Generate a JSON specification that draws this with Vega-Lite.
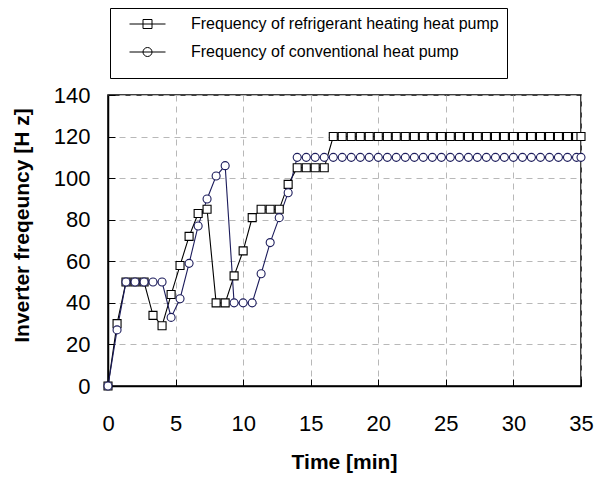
{
  "$schema": "https://vega.github.io/schema/vega-lite/v6.json",
  "width": 473,
  "height": 291,
  "autosize": {"type": "none"},
  "padding": {"left": 108, "top": 95, "right": 21, "bottom": 92},
  "background": "white",
  "config": {
    "view": {"stroke": "black", "strokeWidth": 1.5},
    "font": "Liberation Sans",
    "axis": {
      "labelFont": "Liberation Sans",
      "labelFontSize": 22,
      "labelColor": "black",
      "titleFont": "Liberation Sans",
      "titleFontSize": 21,
      "titleFontWeight": "bold",
      "titleColor": "black",
      "domainColor": "black",
      "domainWidth": 1.5,
      "tickColor": "black",
      "tickSize": -7,
      "gridColor": "#b8b8b8",
      "gridDash": [6, 5],
      "gridWidth": 1
    }
  },
  "data": {
    "values": [
      {"t": 0, "f": 0, "s": "R"},
      {"t": 0.67, "f": 30, "s": "R"},
      {"t": 1.33, "f": 50, "s": "R"},
      {"t": 2.0, "f": 50, "s": "R"},
      {"t": 2.67, "f": 50, "s": "R"},
      {"t": 3.33, "f": 34, "s": "R"},
      {"t": 4.0, "f": 29, "s": "R"},
      {"t": 4.67, "f": 44, "s": "R"},
      {"t": 5.33, "f": 58, "s": "R"},
      {"t": 6.0, "f": 72, "s": "R"},
      {"t": 6.67, "f": 83, "s": "R"},
      {"t": 7.33, "f": 85, "s": "R"},
      {"t": 8.0, "f": 40, "s": "R"},
      {"t": 8.67, "f": 40, "s": "R"},
      {"t": 9.33, "f": 53, "s": "R"},
      {"t": 10.0, "f": 65, "s": "R"},
      {"t": 10.67, "f": 81, "s": "R"},
      {"t": 11.33, "f": 85, "s": "R"},
      {"t": 12.0, "f": 85, "s": "R"},
      {"t": 12.67, "f": 85, "s": "R"},
      {"t": 13.33, "f": 97, "s": "R"},
      {"t": 14.0, "f": 105, "s": "R"},
      {"t": 14.67, "f": 105, "s": "R"},
      {"t": 15.33, "f": 105, "s": "R"},
      {"t": 16.0, "f": 105, "s": "R"},
      {"t": 16.67, "f": 120, "s": "R"},
      {"t": 17.33, "f": 120, "s": "R"},
      {"t": 18.0, "f": 120, "s": "R"},
      {"t": 18.67, "f": 120, "s": "R"},
      {"t": 19.33, "f": 120, "s": "R"},
      {"t": 20.0, "f": 120, "s": "R"},
      {"t": 20.67, "f": 120, "s": "R"},
      {"t": 21.33, "f": 120, "s": "R"},
      {"t": 22.0, "f": 120, "s": "R"},
      {"t": 22.67, "f": 120, "s": "R"},
      {"t": 23.33, "f": 120, "s": "R"},
      {"t": 24.0, "f": 120, "s": "R"},
      {"t": 24.67, "f": 120, "s": "R"},
      {"t": 25.33, "f": 120, "s": "R"},
      {"t": 26.0, "f": 120, "s": "R"},
      {"t": 26.67, "f": 120, "s": "R"},
      {"t": 27.33, "f": 120, "s": "R"},
      {"t": 28.0, "f": 120, "s": "R"},
      {"t": 28.67, "f": 120, "s": "R"},
      {"t": 29.33, "f": 120, "s": "R"},
      {"t": 30.0, "f": 120, "s": "R"},
      {"t": 30.67, "f": 120, "s": "R"},
      {"t": 31.33, "f": 120, "s": "R"},
      {"t": 32.0, "f": 120, "s": "R"},
      {"t": 32.67, "f": 120, "s": "R"},
      {"t": 33.33, "f": 120, "s": "R"},
      {"t": 34.0, "f": 120, "s": "R"},
      {"t": 34.67, "f": 120, "s": "R"},
      {"t": 35.0, "f": 120, "s": "R"},
      {"t": 0, "f": 0, "s": "C"},
      {"t": 0.67, "f": 27, "s": "C"},
      {"t": 1.33, "f": 50, "s": "C"},
      {"t": 2.0, "f": 50, "s": "C"},
      {"t": 2.67, "f": 50, "s": "C"},
      {"t": 3.33, "f": 50, "s": "C"},
      {"t": 4.0, "f": 50, "s": "C"},
      {"t": 4.67, "f": 33, "s": "C"},
      {"t": 5.33, "f": 42, "s": "C"},
      {"t": 6.0, "f": 59, "s": "C"},
      {"t": 6.67, "f": 77, "s": "C"},
      {"t": 7.33, "f": 90, "s": "C"},
      {"t": 8.0, "f": 101, "s": "C"},
      {"t": 8.67, "f": 106, "s": "C"},
      {"t": 9.33, "f": 40, "s": "C"},
      {"t": 10.0, "f": 40, "s": "C"},
      {"t": 10.67, "f": 40, "s": "C"},
      {"t": 11.33, "f": 54, "s": "C"},
      {"t": 12.0, "f": 69, "s": "C"},
      {"t": 12.67, "f": 81, "s": "C"},
      {"t": 13.33, "f": 93, "s": "C"},
      {"t": 14.0, "f": 110, "s": "C"},
      {"t": 14.67, "f": 110, "s": "C"},
      {"t": 15.33, "f": 110, "s": "C"},
      {"t": 16.0, "f": 110, "s": "C"},
      {"t": 16.67, "f": 110, "s": "C"},
      {"t": 17.33, "f": 110, "s": "C"},
      {"t": 18.0, "f": 110, "s": "C"},
      {"t": 18.67, "f": 110, "s": "C"},
      {"t": 19.33, "f": 110, "s": "C"},
      {"t": 20.0, "f": 110, "s": "C"},
      {"t": 20.67, "f": 110, "s": "C"},
      {"t": 21.33, "f": 110, "s": "C"},
      {"t": 22.0, "f": 110, "s": "C"},
      {"t": 22.67, "f": 110, "s": "C"},
      {"t": 23.33, "f": 110, "s": "C"},
      {"t": 24.0, "f": 110, "s": "C"},
      {"t": 24.67, "f": 110, "s": "C"},
      {"t": 25.33, "f": 110, "s": "C"},
      {"t": 26.0, "f": 110, "s": "C"},
      {"t": 26.67, "f": 110, "s": "C"},
      {"t": 27.33, "f": 110, "s": "C"},
      {"t": 28.0, "f": 110, "s": "C"},
      {"t": 28.67, "f": 110, "s": "C"},
      {"t": 29.33, "f": 110, "s": "C"},
      {"t": 30.0, "f": 110, "s": "C"},
      {"t": 30.67, "f": 110, "s": "C"},
      {"t": 31.33, "f": 110, "s": "C"},
      {"t": 32.0, "f": 110, "s": "C"},
      {"t": 32.67, "f": 110, "s": "C"},
      {"t": 33.33, "f": 110, "s": "C"},
      {"t": 34.0, "f": 110, "s": "C"},
      {"t": 34.67, "f": 110, "s": "C"},
      {"t": 35.0, "f": 110, "s": "C"}
    ]
  },
  "encoding": {
    "x": {
      "field": "t", "type": "quantitative",
      "scale": {"domain": [0, 35], "nice": false, "zero": false},
      "axis": {
        "title": "Time [min]",
        "values": [0, 5, 10, 15, 20, 25, 30, 35],
        "labelPadding": 34,
        "labelFlush": false,
        "titleX": 236, "titleY": 76, "titleBaseline": "middle", "titleAlign": "center"
      }
    },
    "y": {
      "field": "f", "type": "quantitative",
      "scale": {"domain": [0, 140], "nice": false},
      "axis": {
        "title": "Inverter freqeuncy [H z]",
        "values": [0, 20, 40, 60, 80, 100, 120, 140],
        "labelPadding": 25,
        "titleX": -86, "titleY": 130, "titleBaseline": "middle", "titleAlign": "center"
      }
    }
  },
  "resolve": {"scale": {"shape": "independent", "color": "independent"}, "legend": {"shape": "independent", "color": "independent"}},
  "layer": [
    {
      "mark": {"type": "line", "strokeWidth": 1.1},
      "encoding": {
        "detail": {"field": "s"},
        "color": {"field": "s", "type": "nominal", "scale": {"domain": ["R", "C"], "range": ["#000000", "#1c1c5c"]}, "legend": null}
      }
    },
    {
      "mark": {"type": "point", "filled": true, "fill": "white", "strokeWidth": 1.1, "size": 64, "opacity": 1},
      "encoding": {
        "shape": {"field": "s", "type": "nominal", "scale": {"domain": ["R", "C"], "range": ["square", "circle"]}, "legend": null},
        "stroke": {"field": "s", "type": "nominal", "scale": {"domain": ["R", "C"], "range": ["#000000", "#1c1c5c"]}, "legend": null}
      }
    },
    {
      "mark": {"type": "point", "filled": false, "color": "black", "opacity": 0, "size": 81},
      "encoding": {
        "shape": {
          "field": "s", "type": "nominal",
          "scale": {"domain": ["R", "C"], "range": ["M0.78,0H8.78M3.78,-1H5.78V1H3.78Z", "M0.78,0H8.78M3.78,0A1,1 0 1,0 5.78,0A1,1 0 1,0 3.78,0Z"]},
          "legend": {
            "orient": "none",
            "legendX": 2,
            "legendY": -87,
            "title": " ",
            "titleOrient": "bottom",
            "titleFontSize": 9,
            "titlePadding": 1,
            "direction": "vertical",
            "strokeColor": "black",
            "padding": 8,
            "rowPadding": 12,
            "symbolOpacity": 1,
            "symbolStrokeColor": "black",
            "symbolFillColor": "transparent",
            "symbolStrokeWidth": 1,
            "symbolSize": 81,
            "labelOffset": 57,
            "labelFont": "Liberation Sans",
            "labelFontSize": 16,
            "labelColor": "black",
            "labelLimit": 400,
            "labelExpr": "datum.value === 'R' ? 'Frequency of refrigerant heating heat pump' : 'Frequency of conventional heat pump'"
          }
        }
      }
    }
  ]
}
